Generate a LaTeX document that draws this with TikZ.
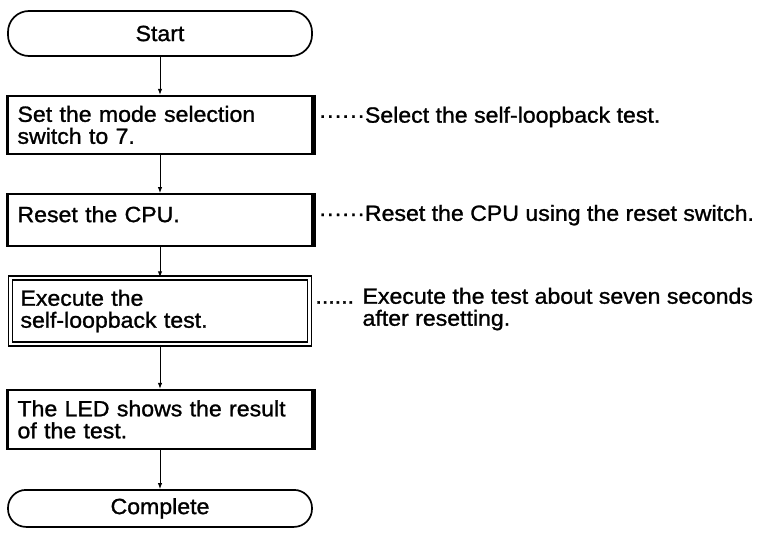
\documentclass[tikz,border=0pt]{standalone}
\usepackage{fontspec}
\setmainfont{Liberation Sans}[FakeStretch=1.05, FakeBold=1.2]
\usetikzlibrary{positioning,arrows.meta}

\newcommand\flowfont{\fontsize{22}{22}\selectfont}

\tikzset{
  term/.style={draw, line width=1.7pt, rounded corners=21pt, minimum width=304pt, minimum height=45pt, font=\flowfont},
  stepbox/.style={draw, line width=2.2pt, text width=285pt, inner xsep=10pt, align=left, font=\flowfont},
  dblbox/.style={stepbox, double, double distance=2.5pt, line width=1.6pt, text width=279pt},
  note/.style={anchor=west, align=left, inner sep=0pt, font=\flowfont},
  flow/.style={-{Latex[length=6pt,width=4.5pt]}, line width=1pt}
}

\begin{document}
\begin{tikzpicture}[x=1pt, y=-1pt]
  \useasboundingbox (0,0) rectangle (764,533);

  \node [term] (start) at (160,33.5) {Start};
  \node [stepbox, minimum height=58pt] (b1) [below=38pt of start] {Set the mode selection\\switch to 7.};
  \node [stepbox, minimum height=52pt, text depth=12pt] (b2) [below=38pt of b1] {Reset the CPU.};
  \node [dblbox, minimum height=66pt] (b3) [below=30pt of b2] {Execute the\\self-loopback test.};
  \node [stepbox, minimum height=59pt] (b4) [below=44pt of b3] {The LED shows the result\\of the test.};
  \node [term, rounded corners=18pt, minimum height=37pt] (done) [below=39pt of b4] {Complete};

  % heavy right edges
  \foreach \b in {b1,b2,b4}
    \draw [line width=4pt] (\b.north east) -- (\b.south east);

  % notes
  \node [note, right=5pt of b1, yshift=8pt] (n1) {······Select the self-loopback test.};
  \node [note, right=5pt of b2, yshift=5pt] (n2) {······Reset the CPU using the reset switch.};
  \node [note, right=5pt of b3, yshift=2pt] (n3) {...... Execute the test about seven seconds\\\hphantom{...... }after resetting.};

  \path [flow]
  (start) edge (b1)
  (b1) edge (b2)
  (b2) edge (b3)
  (b3) edge (b4)
  (b4) edge (done);
\end{tikzpicture}
\end{document}
